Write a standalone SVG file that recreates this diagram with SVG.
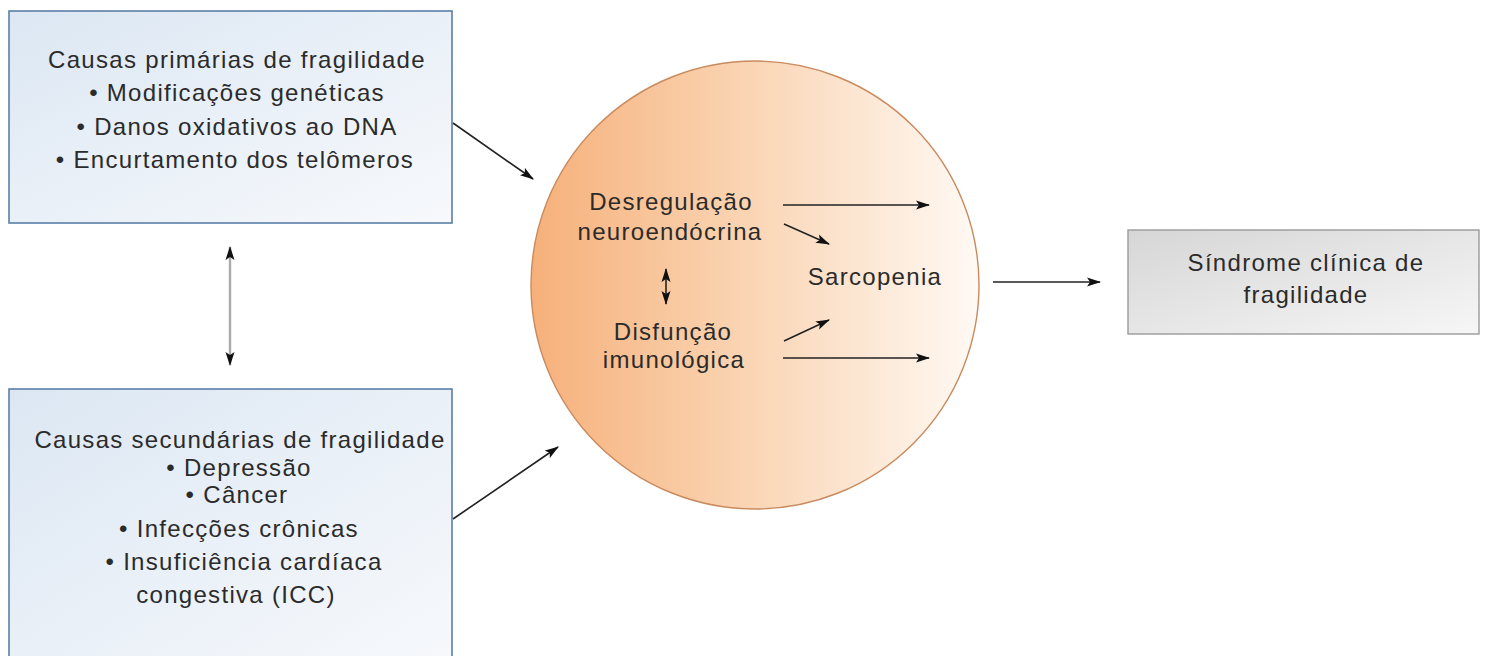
<svg xmlns="http://www.w3.org/2000/svg" width="1487" height="656" viewBox="0 0 1487 656">
  <defs>
    <linearGradient id="boxBlue" x1="0" y1="0" x2="1" y2="1">
      <stop offset="0" stop-color="#dce7f3"/>
      <stop offset="1" stop-color="#f7f9fc"/>
    </linearGradient>
    <linearGradient id="boxGray" x1="0" y1="0" x2="1" y2="1">
      <stop offset="0" stop-color="#d6d6d6"/>
      <stop offset="1" stop-color="#f6f6f6"/>
    </linearGradient>
    <linearGradient id="orb" x1="0" y1="0" x2="1" y2="0">
      <stop offset="0" stop-color="#f6b07a"/>
      <stop offset="0.5" stop-color="#fad6b6"/>
      <stop offset="1" stop-color="#fff9f4"/>
    </linearGradient>
    <marker id="head" viewBox="0 0 14 10" refX="13" refY="5" markerWidth="14" markerHeight="10" markerUnits="userSpaceOnUse" orient="auto-start-reverse">
      <path d="M0,0.5 L14,5 L0,9.5 L3,5 z" fill="#111"/>
    </marker>
    <style>
      .lbl { font-family: "Liberation Sans", Arial, sans-serif; font-size: 24px; fill: #2b2b2b; letter-spacing: 1.3px; text-anchor: middle; }
      .box-blue { fill: url(#boxBlue); stroke: #5b7fa8; stroke-width: 1.6; }
      .box-gray { fill: url(#boxGray); stroke: #9a9a9a; stroke-width: 1.4; }
      .link { fill: none; stroke: #222; stroke-width: 1.6; marker-end: url(#head); }
      .link2 { fill: none; stroke: #222; stroke-width: 1.6; marker-start: url(#head); marker-end: url(#head); }
    </style>
  </defs>

  <rect width="1487" height="656" fill="#ffffff"/>

  <!-- primary causes -->
  <g id="primary">
    <rect class="box-blue" x="9" y="11" width="443" height="212"/>
    <text class="lbl" x="237" y="68">Causas primárias de fragilidade</text>
    <text class="lbl" x="237" y="101">• Modificações genéticas</text>
    <text class="lbl" x="237" y="135">• Danos oxidativos ao DNA</text>
    <text class="lbl" x="235" y="168">• Encurtamento dos telômeros</text>
  </g>

  <!-- secondary causes -->
  <g id="secondary">
    <rect class="box-blue" x="9" y="389" width="443" height="280"/>
    <text class="lbl" x="240" y="448">Causas secundárias de fragilidade</text>
    <text class="lbl" x="239" y="476">• Depressão</text>
    <text class="lbl" x="237" y="503">• Câncer</text>
    <text class="lbl" x="239" y="537">• Infecções crônicas</text>
    <text class="lbl" x="244" y="570">• Insuficiência cardíaca</text>
    <text class="lbl" x="236" y="603">congestiva (ICC)</text>
  </g>

  <!-- central mechanisms -->
  <g id="mechanisms">
    <circle cx="755" cy="285" r="224" fill="url(#orb)" stroke="#c98a5e" stroke-width="1.4"/>
    <text class="lbl" x="671" y="210">Desregulação</text>
    <text class="lbl" x="670" y="240">neuroendócrina</text>
    <text class="lbl" x="673" y="340">Disfunção</text>
    <text class="lbl" x="674" y="368">imunológica</text>
  </g>

  <g id="sarcopenia">
    <text class="lbl" x="875" y="285">Sarcopenia</text>
  </g>

  <!-- clinical outcome -->
  <g id="syndrome">
    <rect class="box-gray" x="1128" y="230" width="351" height="104"/>
    <text class="lbl" x="1306" y="271">Síndrome clínica de</text>
    <text class="lbl" x="1306" y="303">fragilidade</text>
  </g>

  <g id="connectors">
    <line class="link" x1="453" y1="123" x2="533" y2="179"/>
    <line class="link" x1="453" y1="519" x2="558" y2="447"/>
    <!-- grey shaft with black heads between the two cause boxes -->
    <line x1="230" y1="247" x2="230" y2="365" stroke="#aaa" stroke-width="2.4"/>
    <line x1="230" y1="247" x2="230" y2="365" stroke="none" marker-start="url(#head)" marker-end="url(#head)"/>
    <line class="link" x1="783" y1="205" x2="929" y2="205"/>
    <line class="link" x1="784" y1="224" x2="829" y2="244"/>
    <line class="link2" x1="666" y1="269" x2="666" y2="304"/>
    <line class="link" x1="784" y1="341" x2="829" y2="320"/>
    <line class="link" x1="783" y1="358" x2="929" y2="358"/>
    <line class="link" x1="993" y1="282" x2="1100" y2="282"/>
  </g>
</svg>
